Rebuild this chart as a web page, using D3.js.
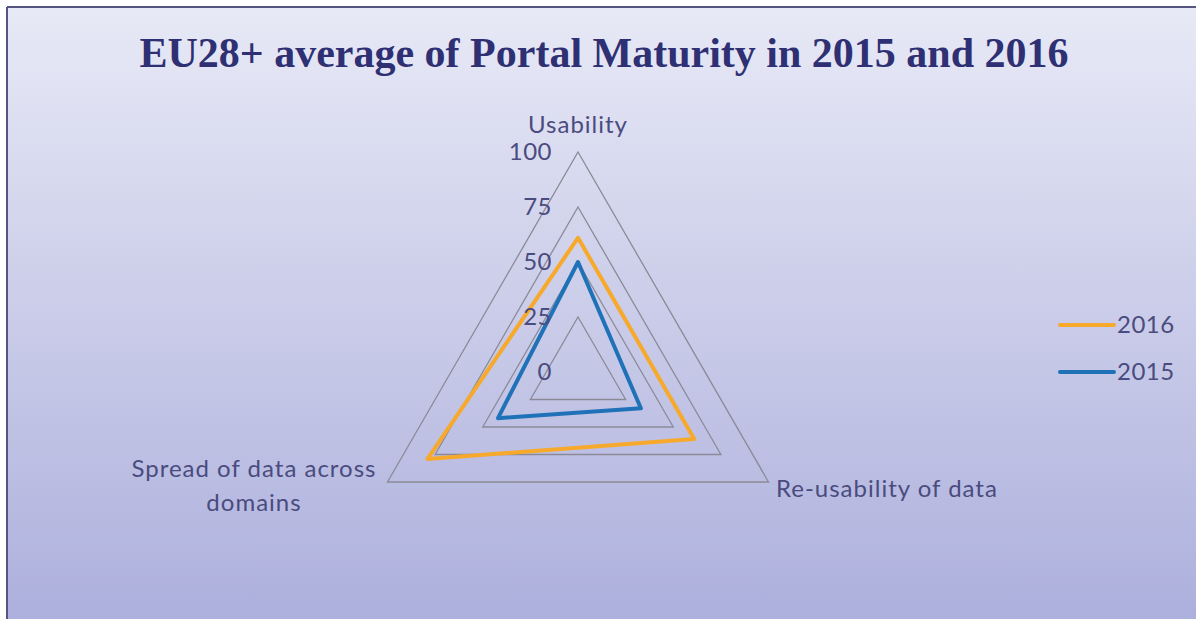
<!DOCTYPE html>
<html>
<head>
<meta charset="utf-8">
<script src="https://cdn.jsdelivr.net/npm/d3@7"></script>
<style>
  body { margin: 0; background: #fff; }
  svg { display: block; }
</style>
</head>
<body>
<div id="chart"></div>
<script>
// chart values
var axes = ["Usability", "Re-usability of data", "Spread of data across domains"];
var years = ["2016", "2015"];
var values2016 = [61, 61, 79];
var values2015 = [50, 33, 42];
var ticks = [0, 25, 50, 75, 100];

var svgWidth = 1196, svgHeight = 619;
var cx = 578, cy = 372, radius = 220;

var svg = d3.select("#chart").append("svg")
  .attr("width", svgWidth)
  .attr("height", svgHeight);

// background gradient
var defs = svg.append("defs");
var grad = defs.append("linearGradient")
  .attr("id", "bg").attr("x1", 0).attr("y1", 0).attr("x2", 0).attr("y2", 1);
grad.append("stop").attr("offset", "0%").attr("stop-color", "#e8e9f6");
grad.append("stop").attr("offset", "100%").attr("stop-color", "#acafdc");

svg.append("rect")
  .attr("x", 7).attr("y", 7)
  .attr("width", svgWidth).attr("height", svgHeight)
  .attr("fill", "url(#bg)");
svg.append("line").attr("x1", 7).attr("x2", svgWidth).attr("y1", 7).attr("y2", 7)
  .attr("stroke", "#55557f").attr("stroke-width", 2);
svg.append("line").attr("x1", 7).attr("x2", 7).attr("y1", 7).attr("y2", svgHeight)
  .attr("stroke", "#55557f").attr("stroke-width", 2);

// title
svg.append("text")
  .attr("x", 604).attr("y", 67)
  .attr("text-anchor", "middle")
  .style("font-family", "'Liberation Serif', 'DejaVu Serif', serif")
  .style("font-weight", "bold")
  .style("font-size", "42px")
  .attr("fill", "#2e3073")
  .text("EU28+ average of Portal Maturity in 2015 and 2016");

var rScale = d3.scaleLinear().domain([0, 100]).range([0, radius]);
var angle = d3.scalePoint().domain(axes).range([0, 2 * Math.PI * 2 / 3]);

function point(axis, v) {
  var a = angle(axis);
  return [cx + rScale(v) * Math.sin(a), cy - rScale(v) * Math.cos(a)];
}

var chartGroup = svg.append("g");
var lineGen = d3.line().curve(d3.curveLinearClosed);

// grid rings
chartGroup.selectAll(".ring")
  .data(ticks.filter(d => d > 0))
  .enter()
  .append("path")
  .attr("class", "ring")
  .attr("d", t => lineGen(axes.map(a => point(a, t))))
  .attr("fill", "none")
  .attr("stroke", "#8a8a96")
  .attr("stroke-width", 1.3);

// series
var series = [
  { name: years[1], values: values2015, color: "#1f72b8" },
  { name: years[0], values: values2016, color: "#f7a92c" }
];
chartGroup.selectAll(".series")
  .data(series)
  .enter()
  .append("path")
  .attr("class", "series")
  .attr("d", s => lineGen(axes.map((a, i) => point(a, s.values[i]))))
  .attr("fill", "none")
  .attr("stroke", s => s.color)
  .attr("stroke-width", 4)
  .attr("stroke-linejoin", "round");

var labelFont = "'Lato', 'Open Sans', sans-serif";
var labelColor = "#4a4b7e";

function label(sel) {
  return sel.style("font-family", labelFont)
    .style("font-size", "24px")
    .style("letter-spacing", "1px")
    .attr("fill", labelColor);
}

// tick labels
chartGroup.selectAll(".tick")
  .data(ticks)
  .enter()
  .append("text")
  .attr("class", "tick")
  .attr("x", cx - 26)
  .attr("y", t => cy - rScale(t))
  .attr("dy", "0.35em")
  .attr("text-anchor", "end")
  .call(label)
  .style("letter-spacing", "0.5px")
  .text(d => d);

// axis labels
svg.append("text")
  .attr("x", cx).attr("y", 133)
  .attr("text-anchor", "middle")
  .call(label)
  .text(axes[0]);

svg.append("text")
  .attr("x", 776).attr("y", 497)
  .attr("text-anchor", "start")
  .call(label)
  .text(axes[1]);

var spread = svg.append("text")
  .attr("text-anchor", "middle")
  .call(label);
spread.append("tspan").attr("x", 254).attr("y", 477).text("Spread of data across");
spread.append("tspan").attr("x", 254).attr("y", 511).text("domains");

// legend
var legend = svg.selectAll(".legend")
  .data([series[1], series[0]])
  .enter()
  .append("g")
  .attr("class", "legend")
  .attr("transform", (d, i) => `translate(1060, ${325 + i * 47})`);
legend.append("line")
  .attr("x1", 0).attr("x2", 54)
  .attr("stroke", d => d.color)
  .attr("stroke-width", 4)
  .attr("stroke-linecap", "round");
legend.append("text")
  .attr("x", 57).attr("dy", "0.35em")
  .call(label)
  .style("letter-spacing", "0.5px")
  .text(d => d.name);
</script>
</body>
</html>
